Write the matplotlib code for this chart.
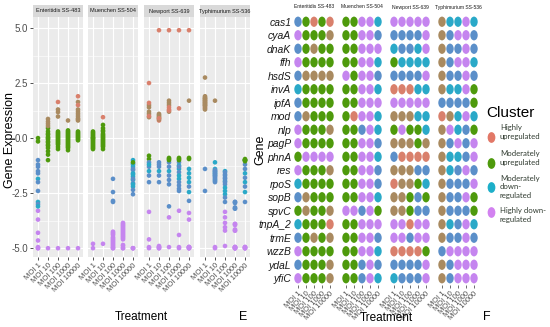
import matplotlib
matplotlib.use("Agg")
import matplotlib.pyplot as plt
from matplotlib.path import Path

plt.rcParams["font.family"] = ["Liberation Sans", "DejaVu Sans"]

genes = ["cas1", "cyaA", "dnaK", "ffh", "hsdS", "invA", "ipfA", "mod", "nlp", "pagP",
         "phnA", "res", "rpoS", "sopB", "spvC", "tnpA_2", "trmE", "wzzB", "ydaL", "yfiC"]
moi = ["MOI 1", "MOI 10", "MOI 100", "MOI 1000", "MOI 10000"]
strains = ["Enteritidis SS-483", "Muenchen SS-504", "Newport SS-639", "Typhimurium SS-536"]

# cluster per gene, one letter per MOI
ent_clu = ["SGRGR", "VGGGB", "SGBGG", "VGGGG", "SBBBB", "CGGGG", "SGGGG", "SBGGG", "VGGGB", "VGGGG",
           "GVVVV", "VGGGB", "CGGGG", "SBGGG", "GBGGB", "CGGGR", "SGBGB", "VGGGG", "SGGGB", "VGGGB"]
mue_clu = ["GGVVC", "GGVVS", "GGVVV", "GGVVC", "VGVVS", "GGVVC", "GGVVV", "GRVVC", "GGSVC", "GGVVS",
           "GGVVC", "GGVVS", "GGVVS", "GGVVC", "VVSVG", "GGVVV", "GGVVS", "GGVVC", "GGSVS", "GGSVC"]
new_clu = ["VVVVV", "SSSSV", "CSSCV", "GCCCC", "SSSSV", "RRRCC", "VVVVV", "BBBCC", "GVGGC", "BBBGB",
           "SRRRR", "BBBSS", "RBBGC", "BBGSG", "BBGSS", "VVRVV", "VVSVV", "RRRRG", "SSSSV", "CSSSV"]
typ_clu = ["BCCVC", "BSVVS", "BSSVS", "BSVVC", "BSSVS", "BCCVG", "SSSSG", "RBCVC", "BVCSG", "BSVSV",
           "BCCSV", "BCSVS", "BSSSV", "BSSVG", "BSSSG", "BCSVC", "BSSVS", "SVVVV", "BSVVV", "BSVVV"]

# gene expression per MOI, genes in the order above (panel E)
ent_vals = [
    [-1.2, -3.3, -1.3, -3.7, -1.6, -1.85, -2.0, -2.4, -4.3, -4.65, -0.15, -5.0, -2.9, -3.0, 0.0, -3.1, -1.0, -5.0, -1.5, -4.95],
    [0.45, 0.3, 0.15, 0.05, 0.87, -0.05, -0.15, 0.65, -0.3, -0.45, -5.0, -0.6, -0.75, 0.55, 0.75, -1.0, 0.0, -0.2, 0.2, -0.35],
    [1.64, 0.3, 1.18, 0.2, 1.3, 0.1, 0.0, -0.1, -0.2, -0.3, -5.0, -0.4, -0.5, 0.15, 0.05, -0.05, 0.98, -0.25, 0.25, -0.15],
    [0.35, 0.25, 0.15, 0.05, 0.8, -0.05, -0.15, -0.25, -0.35, -0.45, -5.0, -0.55, 0.2, 0.1, 0.0, -0.1, -0.2, -0.3, 0.3, -0.4],
    [1.9, 1.3, 0.3, 0.2, 1.64, 0.1, 0.0, -0.1, 1.0, 0.25, -5.0, 0.8, 0.05, -0.05, 1.2, 1.5, 0.9, 0.15, 1.1, 0.85],
]
mue_vals = [
    [0.3, 0.2, 0.1, 0.0, -4.8, -0.1, -0.2, -0.3, -0.4, -0.5, 0.25, 0.15, 0.05, -0.05, -5.0, -0.15, -0.25, -0.35, -0.45, 0.0],
    [0.6, 0.45, 0.3, 0.2, 0.1, 0.0, -0.1, 0.95, -0.2, -0.3, -0.4, -0.5, 0.35, 0.15, -4.8, 0.05, -0.05, -0.15, -0.25, -0.35],
    [-4.25, -4.4, -4.55, -4.7, -4.85, -5.0, -4.3, -4.5, -1.85, -4.65, -4.8, -4.95, -4.35, -4.6, -2.45, -4.75, -4.9, -5.0, -2.9, -2.85],
    [-3.85, -3.95, -4.05, -4.15, -4.25, -4.35, -4.45, -4.55, -4.85, -5.0, -3.9, -4.0, -4.1, -4.2, -4.3, -4.4, -4.5, -4.6, -5.0, -4.9],
    [-1.0, -1.15, -5.0, -1.3, -1.45, -1.6, -5.0, -1.75, -1.9, -2.05, -2.2, -2.35, -2.55, -1.2, -1.1, -5.0, -1.4, -1.65, -1.85, -2.1],
]
new_vals = [
    [-3.35, -1.3, -1.5, -0.95, -1.7, 2.5, -4.6, 1.5, -0.8, 1.4, -2.0, 1.1, 1.6, 0.95, 1.2, -4.95, -5.0, 1.0, -1.1, -1.2],
    [-4.95, -1.1, -1.3, -1.5, -1.7, 4.9, -4.95, 1.1, -5.0, 0.9, 0.8, 1.0, 0.95, 0.85, 1.05, -4.9, -5.0, 0.9, -2.0, -1.2],
    [-3.6, -1.1, -1.3, -1.5, -1.7, 4.9, -4.95, 1.7, -0.95, 1.5, 1.3, 1.2, 1.6, -0.9, -1.0, 1.4, -1.9, 1.25, -2.1, -3.1],
    [-3.3, -1.1, -1.25, -1.4, -1.55, -1.7, -4.4, -1.85, -0.9, -0.95, 4.9, -2.0, -1.0, -2.15, -2.3, -4.95, -5.0, 1.35, -2.4, -1.3],
    [-3.4, -3.7, -4.95, -1.4, -5.0, -1.6, -4.95, -1.8, -2.0, 1.7, 4.9, -2.2, -2.45, -0.95, -2.85, -4.95, -5.0, -0.9, -4.95, -5.0],
]
typ_vals = [
    [2.75, 1.9, 1.8, 1.7, 1.6, 1.5, -1.4, 1.4, 1.3, 1.85, 1.75, 1.65, 1.55, 1.45, 1.35, 1.5, 1.6, -2.4, 1.7, 1.8],
    [-1.4, -1.5, -1.6, -1.7, -1.8, -1.9, -2.0, 1.7, -4.95, -1.45, -1.55, -1.65, -1.75, -1.85, -1.95, -1.1, -1.5, -5.0, -1.6, -1.7],
    [-1.5, -3.35, -1.65, -3.6, -1.8, -1.95, -2.1, -2.25, -2.4, -3.85, -2.55, -2.7, -2.9, -1.55, -1.7, -1.85, -2.0, -4.05, -4.2, -4.9],
    [-3.9, -4.2, -4.95, -5.0, -4.95, -3.95, -2.9, -4.15, -3.2, -2.95, -3.15, -5.0, -2.9, -4.95, -3.2, -5.0, -4.95, -3.9, -4.2, -5.0],
    [-1.0, -1.2, -1.4, -1.6, -1.8, -1.0, -0.95, -2.0, -1.0, -4.95, -5.0, -2.2, -4.95, -1.05, -1.0, -2.45, -2.9, -5.0, -4.95, -5.0],
]

colors = {"R": "#D9806C", "B": "#A98A60", "G": "#4E9A0C", "S": "#5B8FC9", "C": "#2AA9C8", "V": "#C585EF"}
legend_keys = ["R", "G", "C", "V"]
legend_cols = {"R": "#E27867", "G": "#4E9A0C", "C": "#1DAFC9", "V": "#D282F0"}
legend_labels = ["Highly\nupregulated", "Moderately\nupregulated", "Moderately\ndown-\nregulated", "Highly down-\nregulated"]

all_clu = [ent_clu, mue_clu, new_clu, typ_clu]
all_vals = [ent_vals, mue_vals, new_vals, typ_vals]

W, H = 550, 327


def box(x0, y0, x1, y1):
    return [x0 / W, 1 - y1 / H, (x1 - x0) / W, (y1 - y0) / H]


circ = Path.unit_circle()
ellipse = Path(circ.vertices * [0.72, 1.0], circ.codes)

fig = plt.figure(figsize=(5.5, 3.27), dpi=100)

# ---- panel E: expression scatter per strain
e_left = [33, 88, 144, 200]
for k, x0 in enumerate(e_left):
    ax = fig.add_axes(box(x0, 17, x0 + 50, 257))
    ax.set_facecolor("#EBEBEB")
    ax.set_xlim(0.5, 5.5)
    ax.set_ylim(-5.4, 5.5)
    ax.set_yticks([-5, -2.5, 0, 2.5, 5])
    ax.set_yticks([-3.75, -1.25, 1.25, 3.75], minor=True)
    ax.set_xticks(range(1, 6))
    ax.grid(True, which="major", color="white", lw=0.8)
    ax.grid(True, which="minor", axis="y", color="white", lw=0.4)
    ax.set_axisbelow(True)
    for s in ax.spines.values():
        s.set_visible(False)
    ax.tick_params(which="major", length=2, width=0.6, color="#333333", pad=1.5)
    ax.tick_params(which="minor", length=0)
    ax.set_xticklabels(moi, rotation=45, ha="right", rotation_mode="anchor", fontsize=5.5, color="#4D4D4D")
    if k == 0:
        ax.set_yticklabels(["-5.0", "-2.5", "0.0", "2.5", "5.0"], fontsize=7, color="#4D4D4D")
    else:
        ax.set_yticklabels([])
        ax.tick_params(axis="y", length=0)
    clu = all_clu[k]
    for i in range(5):
        cs = [colors[clu[g][i]] for g in range(len(genes))]
        ax.scatter([i + 1] * len(genes), all_vals[k][i], s=11, c=cs, linewidths=0, zorder=3)
    st = fig.add_axes(box(x0, 5, x0 + 50, 17))
    st.set_facecolor("#D9D9D9")
    st.set_xticks([])
    st.set_yticks([])
    for s in st.spines.values():
        s.set_visible(False)
    st.text(0.5, 0.5, strains[k], ha="center", va="center", fontsize=4.0, color="#1A1A1A", transform=st.transAxes)

fig.text(10 / W, 1 - 140 / H, "Gene Expression", rotation=90, ha="center", va="center", fontsize=9)
fig.text(141 / W, 1 - 317 / H, "Treatment", ha="center", va="center", fontsize=8.5)
fig.text(243 / W, 1 - 317 / H, "E", ha="center", va="center", fontsize=9)

# ---- panel F: cluster grid per strain
f_left = [294, 342, 390, 438]
for k, x0 in enumerate(f_left):
    ax = fig.add_axes(box(x0, 15, x0 + 40, 285))
    ax.set_xlim(0.5, 5.5)
    ax.set_ylim(len(genes) + 0.5, 0.5)
    for s in ax.spines.values():
        s.set_visible(False)
    clu = all_clu[k]
    for i in range(5):
        cs = [colors[clu[g][i]] for g in range(len(genes))]
        ax.scatter([i + 1] * len(genes), range(1, len(genes) + 1), s=55, c=cs, marker=ellipse, linewidths=0)
    ax.set_xticks(range(1, 6))
    ax.set_xticklabels(moi, rotation=45, ha="right", rotation_mode="anchor", fontsize=5.4, color="#4D4D4D")
    ax.tick_params(axis="x", length=2, width=0.5, color="#333333", pad=1.5)
    ax.set_yticks(range(1, len(genes) + 1))
    if k == 0:
        ax.set_yticklabels(genes, fontsize=7.5, style="italic", color="#1A1A1A")
        ax.tick_params(axis="y", length=0, pad=2)
    else:
        ax.set_yticklabels([])
        ax.tick_params(axis="y", length=0)
    fig.text((x0 + 20) / W, 1 - 7 / H, strains[k], ha="center", va="center", fontsize=3.6, color="#1A1A1A")

fig.text(260 / W, 1 - 150 / H, "Gene", rotation=90, ha="center", va="center", fontsize=9)
fig.text(386 / W, 1 - 318 / H, "Treatment", ha="center", va="center", fontsize=8.5)
fig.text(487 / W, 1 - 317 / H, "F", ha="center", va="center", fontsize=9)

# ---- legend
lg = fig.add_axes(box(480, 100, 550, 230))
lg.set_xlim(480, 550)
lg.set_ylim(230, 100)
lg.axis("off")
lg.text(486, 113, "Cluster", fontsize=11, va="center", ha="left")
key_y = [137, 163, 187, 212]
text_y = [132, 158, 187, 215]
for key, lab, y, ty in zip(legend_keys, legend_labels, key_y, text_y):
    lg.scatter([491], [y], s=60, c=legend_cols[key], marker=ellipse, linewidths=0)
    lg.text(500, ty, lab, fontsize=5.6, va="center", ha="left",
            family=["Lato", "DejaVu Sans"], color="#2F3A2F", linespacing=1.3)

fig.savefig("out.png", dpi=100)
